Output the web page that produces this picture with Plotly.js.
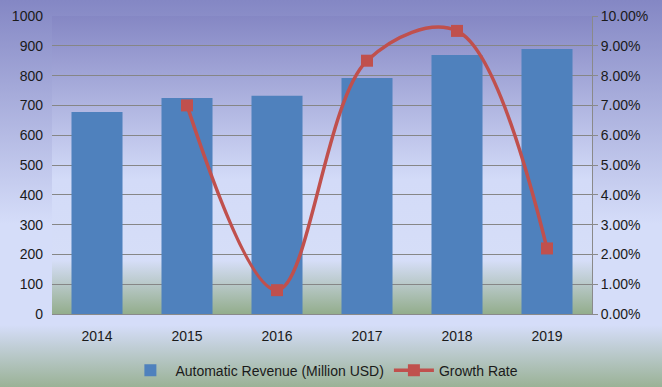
<!DOCTYPE html>
<html>
<head>
<meta charset="utf-8">
<script src="https://cdn.plot.ly/plotly-3.0.1.min.js"></script>
<style>
  html, body { margin: 0; padding: 0; }
  #chart {
    width: 662px; height: 387px;
    background:
      linear-gradient(to bottom, #8587C4 0%, #D3DBF8 55%, #D6DEF8 82%, #93AD8C 100%) 52px 16px / 540px 298px no-repeat,
      linear-gradient(to bottom, #8487C4 0%, #D5DDF9 58%, #D5DDF9 84%, #9AB296 100%);
  }
</style>
</head>
<body>
<div id="chart"></div>
<script>
const years = ['2014', '2015', '2016', '2017', '2018', '2019'];
const revenue = [678, 725, 732, 792, 869, 889];
const growthYears = ['2015', '2016', '2017', '2018', '2019'];
const growthRate = [0.070, 0.008, 0.085, 0.095, 0.022];

const font = { family: 'Liberation Sans, Arial, sans-serif', size: 14, color: '#1a1a1a' };

const traces = [
  {
    type: 'bar', x: years, y: revenue, name: 'Automatic Revenue (Million USD)',
    marker: { color: '#4F81BD' }, yaxis: 'y', hoverinfo: 'none'
  },
  {
    type: 'scatter', mode: 'lines+markers', x: growthYears, y: growthRate, name: 'Growth Rate',
    line: { color: '#C0504D', width: 3.5, shape: 'spline', smoothing: 1 },
    marker: { symbol: 'square', size: 12, color: '#C0504D' },
    yaxis: 'y2', hoverinfo: 'none'
  }
];

const layout = {
  width: 662, height: 387,
  margin: { l: 52, r: 70, t: 16, b: 73, autoexpand: false },
  paper_bgcolor: 'rgba(0,0,0,0)',
  plot_bgcolor: 'rgba(0,0,0,0)',
  font: font,
  bargap: 0.433,
  showlegend: true,
  legend: {
    orientation: 'h', x: 0.49, xanchor: 'center', xref: 'container',
    y: 0.042, yanchor: 'middle', yref: 'container',
    font: font, bgcolor: 'rgba(0,0,0,0)', traceorder: 'normal', itemwidth: 40
  },
  xaxis: {
    type: 'category', showgrid: false, showline: true, linecolor: '#8a8a8a', linewidth: 1,
    ticks: '', tickfont: font, zeroline: false, ticklabelstandoff: 9
  },
  yaxis: {
    range: [0, 1000], dtick: 100, showgrid: true, gridcolor: '#868686', gridwidth: 1,
    showline: false, zeroline: false, ticks: '', tickfont: font, ticklabelstandoff: 8
  },
  yaxis2: {
    overlaying: 'y', side: 'right', range: [0, 0.1], dtick: 0.01, tickformat: '.2%',
    showgrid: false, zeroline: false, showline: true, linecolor: '#8a8a8a', linewidth: 1,
    ticks: 'outside', ticklen: 5, tickcolor: '#8a8a8a', tickfont: font
  }
};

Plotly.newPlot('chart', traces, layout, { displayModeBar: false, staticPlot: true });
</script>
</body>
</html>
